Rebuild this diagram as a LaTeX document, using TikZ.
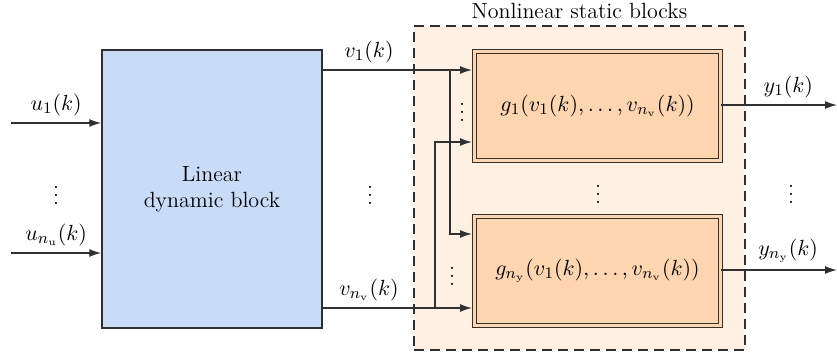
\documentclass[tikz,border=0pt]{standalone}
\usepackage{amsmath}
\usetikzlibrary{arrows.meta}

\definecolor{linblue}{HTML}{C8DCF8}
\definecolor{nlpeach}{HTML}{FEF0E3}
\definecolor{gorange}{HTML}{FDD5AE}
\definecolor{wire}{HTML}{303030}

\begin{document}
\begin{tikzpicture}[x=0.5pt, y=-0.5pt, font=\fontsize{11}{13}\selectfont]
    % Define styles
    \tikzstyle{linblock} = [rectangle, draw=wire, line width=0.7pt, fill=linblue, align=center, minimum width=110pt, minimum height=139pt]
    \tikzstyle{nlframe} = [rectangle, draw=wire, line width=0.7pt, dash pattern=on 5pt off 3pt, fill=nlpeach, minimum width=165.5pt, minimum height=162pt]
    \tikzstyle{gblock} = [rectangle, draw=wire, line width=0.6pt, double=gorange, double distance=1.5pt, fill=gorange, minimum width=122.8pt, minimum height=54.3pt]
    \tikzstyle{line} = [draw=wire, line width=0.7pt]
    \tikzstyle{arr} = [line, -{Latex[length=6pt, width=4pt]}]

    \useasboundingbox (0,0) rectangle (837,358);

    % Dashed frame of the static part
    \node[nlframe] (nl) at (579.5,188) {};
    \node[above, inner sep=3pt] (nltitle) at (nl.north) {Nonlinear static blocks};

    % Linear dynamic block
    \node[linblock] (lin) at (212,189) {Linear\\dynamic block};

    % Nonlinear static blocks
    \node[gblock] (g1) at (597.5,106) {$g_1(v_1(k),\ldots,v_{n_\mathrm{v}}(k))$};
    \node[gblock] (gn) at (597.5,271) {$g_{n_\mathrm{y}}(v_1(k),\ldots,v_{n_\mathrm{v}}(k))$};

    % Connection points
    \coordinate (u1in) at (11,123);
    \coordinate (unin) at (11,253);
    \coordinate (g1in1) at (472,70);
    \coordinate (g1in2) at (472,142);
    \coordinate (gnin1) at (472,234);
    \coordinate (gnin2) at (472,308);
    \coordinate (b1) at (450,70);
    \coordinate (b2) at (435,308);
    \coordinate (y1out) at (837,105);
    \coordinate (ynout) at (837,270);

    % Inputs
    \draw[arr] (u1in) -- node[above] {$u_1(k)$} (u1in -| lin.west);
    \draw[arr] (unin) -- node[above] {$u_{n_\mathrm{u}}(k)$} (unin -| lin.west);

    % Outputs of the linear block
    \draw[arr] (lin.east |- g1in1) -- node[pos=0.31, above] {$v_1(k)$} (g1in1);
    \draw[arr] (lin.east |- gnin2) -- node[pos=0.31, above] {$v_{n_\mathrm{v}}(k)$} (gnin2);

    % Branches to the other block
    \draw[arr] (b1) |- (gnin1);
    \draw[arr] (b2) |- (g1in2);

    % Outputs
    \draw[arr] (g1.east |- y1out) -- node[pos=0.58, above] {$y_1(k)$} (y1out);
    \draw[arr] (gn.east |- ynout) -- node[pos=0.58, above] {$y_{n_\mathrm{y}}(k)$} (ynout);

    % Dots
    \node (dotsu) at (56,189) {$\vdots$};
    \node (dotsv) at (370,189) {$\vdots$};
    \node (dotsg) at (598,188) {$\vdots$};
    \node (dotsy) at (791,188) {$\vdots$};
    \node (dotsg1) at (462,106) {$\vdots$};
    \node (dotsgn) at (452,270) {$\vdots$};

\end{tikzpicture}
\end{document}
